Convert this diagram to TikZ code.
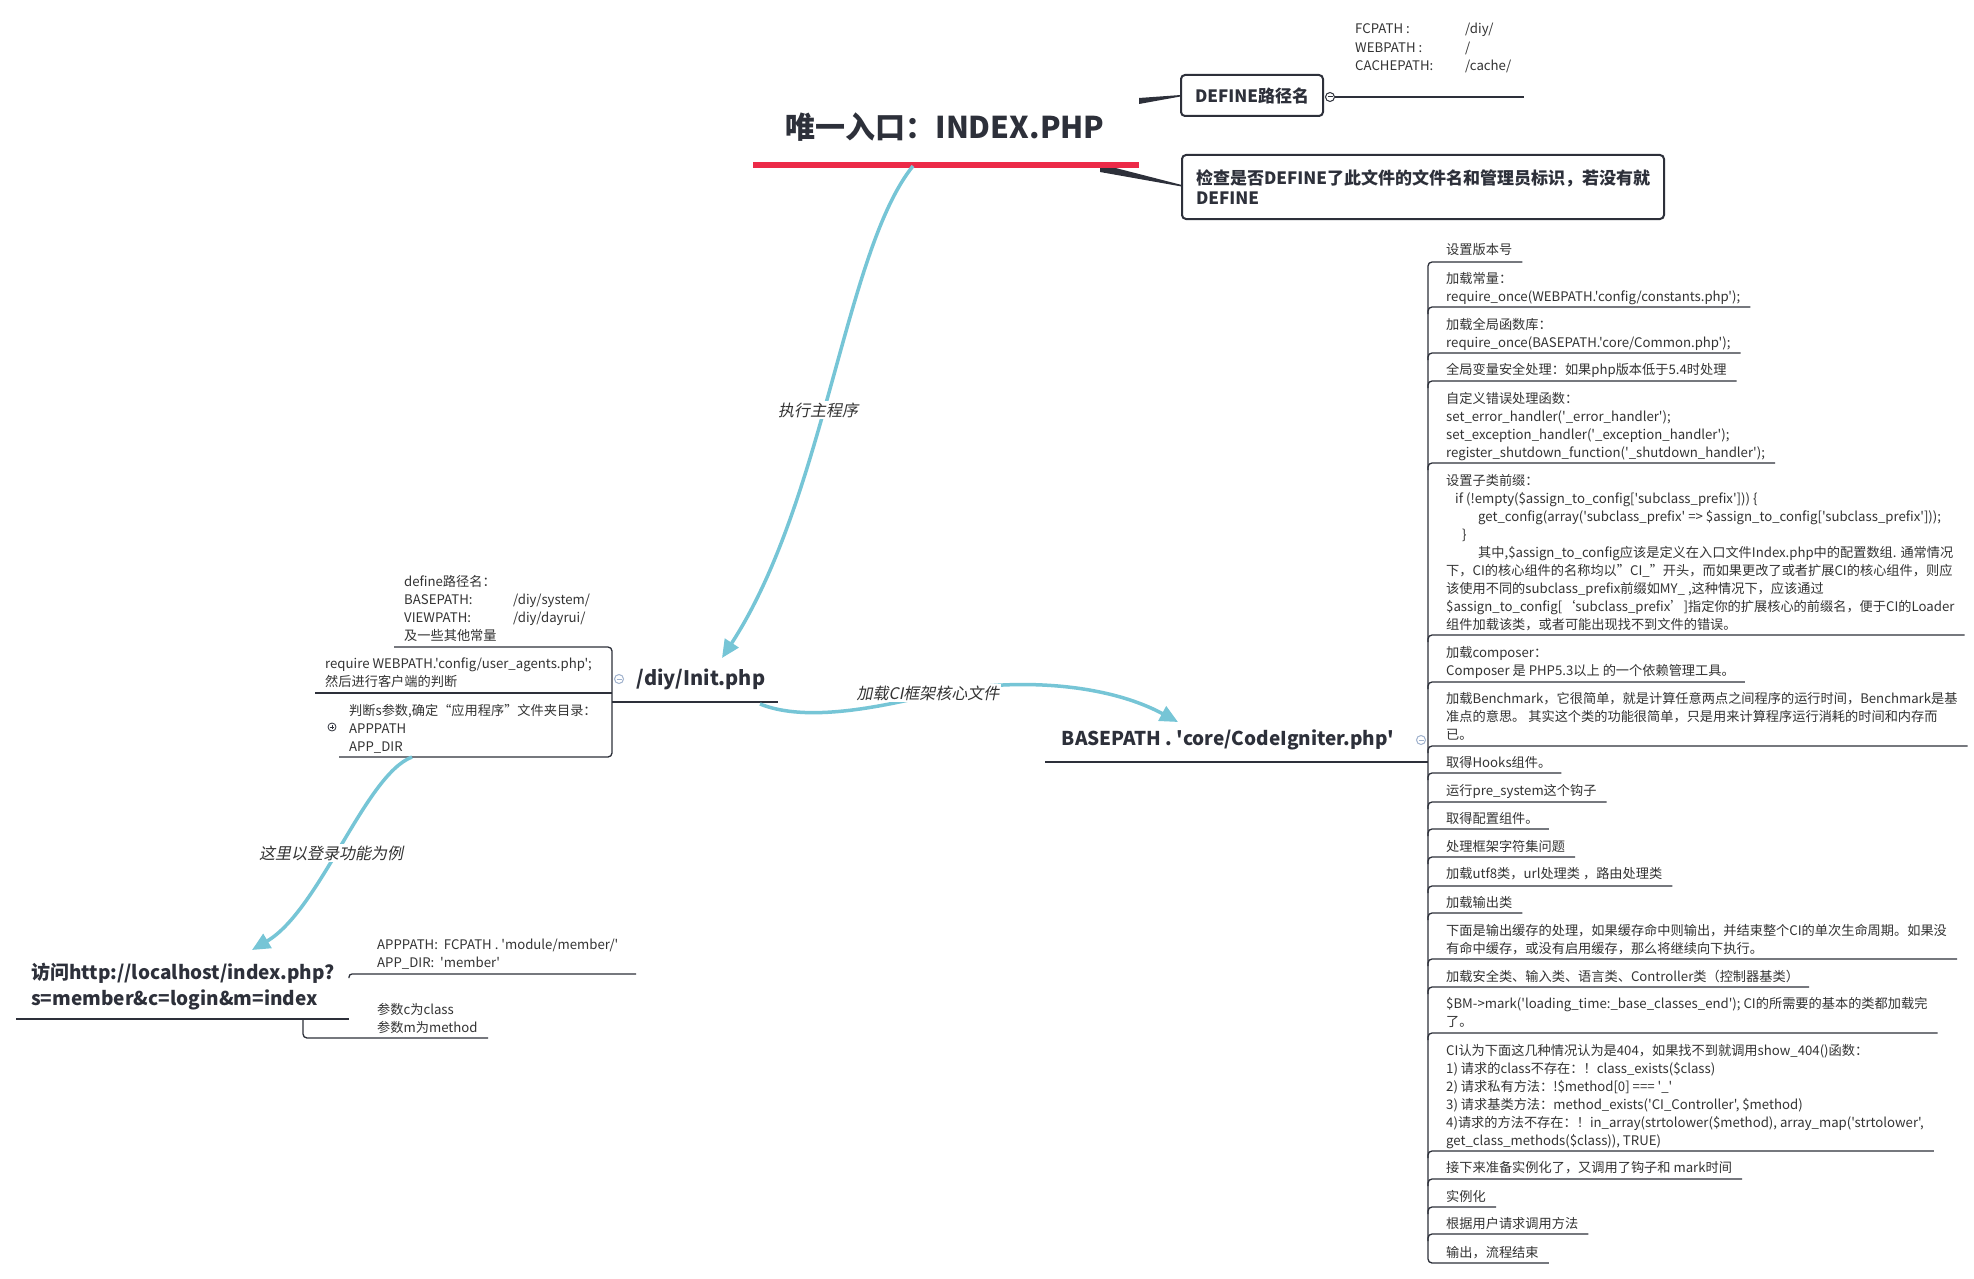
\documentclass[tikz,border=0pt]{standalone}
\usepackage{fontspec}
\newfontfamily\cjk{Noto Sans CJK SC}
\newfontfamily\cjkit{Noto Sans CJK SC}[FakeSlant=0.2]
\usetikzlibrary{arrows.meta}
\definecolor{ink}{RGB}{51,51,51}
\definecolor{dark}{RGB}{45,48,58}
\definecolor{flowc}{RGB}{118,197,214}
\definecolor{redc}{RGB}{236,42,72}
\definecolor{iconc}{RGB}{160,178,205}
\begin{document}
\begin{tikzpicture}[x=1pt,y=-1pt,
 small/.style={font={\cjk\fontsize{13.2}{18}\selectfont},text=ink,align=left,inner sep=0pt,anchor=base west},
 ul/.style={draw=dark,line width=1.3pt},
 mainul/.style={draw=dark,line width=2.6pt},
 topic/.style={font={\cjk\bfseries\fontsize{20}{26}\selectfont},text=dark,inner sep=0pt},
 boxnode/.style={draw=dark,line width=2pt,rounded corners=4pt,font={\cjk\bfseries\fontsize{17}{20}\selectfont},text=dark,align=left,inner sep=0pt},
 flow/.style={draw=flowc,line width=3.5pt,-{Triangle[length=18pt,width=16pt]}},
 flowlabel/.style={font={\cjkit\fontsize{16}{18}\selectfont},text=ink,fill=white,inner sep=2pt},
 icon/.style={draw=#1,line width=1pt,fill=white,circle,minimum size=9pt,inner sep=0pt},
]
\useasboundingbox[fill=white] (0,0) rectangle (1974,1279);

% ---------- central topic ----------
\fill[dark] (1139,98) -- (1181,95) -- (1181,96.4) -- (1139,104) -- cycle;
\fill[dark] (1100,164) -- (1181,184.8) -- (1181,186.4) -- (1100,172) -- cycle;
\node[font={\cjk\bfseries\fontsize{30}{36}\selectfont},text=dark,inner sep=0pt] (title) at (945,127) {唯一入口：INDEX.PHP};
\fill[redc] (753,162.5) rectangle (1139,168.5);
\coordinate (titleR) at (913,166);

\node[boxnode,minimum width=142pt,minimum height=41pt] (def) at (1252,95.5) {DEFINE路径名};
\node[boxnode,minimum width=482pt,minimum height=64pt,anchor=north west] (chk) at (1181,154)
 {检查是否DEFINE了此文件的文件名和管理员标识，若没有就\\DEFINE};

\node[icon=dark] (icdef) at (1330,97) {};
\draw[dark,line width=1pt] ([xshift=-2.5pt]icdef.center) -- ([xshift=2.5pt]icdef.center);
\node[small,font={\cjk\fontsize{13.2}{18.5}\selectfont}] (fc) at (1355,71)
 {\makebox[110pt][l]{FCPATH :}/diy/\\\makebox[110pt][l]{WEBPATH :}/\\\makebox[110pt][l]{CACHEPATH:}/cache/};
\draw[ul] (icdef.east) -- (1524,97);

% ---------- /diy/Init.php ----------
\node[topic] (init) at (701,679) {/diy/Init.php};
\draw[mainul] (625,702) -- (778,702);
\coordinate (initR) at (760,704);
\coordinate (initTop) at (722,658);
\node[icon=iconc] (icinit) at (619,679) {};
\draw[iconc,line width=1pt] ([xshift=-2.5pt]icinit.center) -- ([xshift=2.5pt]icinit.center);

\node[small] (l1) at (404,640)
 {define路径名：\\\makebox[109pt][l]{BASEPATH:}/diy/system/\\\makebox[109pt][l]{VIEWPATH:}/diy/dayrui/\\及一些其他常量};
\node[small] (l2) at (325,686) {require WEBPATH.'config/user\_agents.php';\\然后进行客户端的判断};
\node[small] (l3) at (349,751) {判断s参数,确定“应用程序”文件夹目录：\\APPPATH\\APP\_DIR};
\draw[ul,rounded corners=4pt] (394,647) -- (612,647) -- (612,757) -- (339,757);
\draw[ul] (315,693) -- (612,693);
\draw[ul] (612,702) -- (625,702);
\node[icon=dark,minimum size=8pt,line width=0.8pt] (icl3) at (332,727) {};
\draw[dark,line width=0.8pt] ([xshift=-2.2pt]icl3.center) -- ([xshift=2.2pt]icl3.center)
 ([yshift=-2.2pt]icl3.center) -- ([yshift=2.2pt]icl3.center);
\coordinate (l3B) at (412,757);

% ---------- login node ----------
\node[font={\cjk\bfseries\fontsize{19}{26}\selectfont},text=dark,inner sep=0pt,align=left,anchor=base west] (login) at (31,1005)
 {访问http://localhost/index.php?\\s=member\&c=login\&m=index};
\draw[mainul] (16,1019) -- (349,1019);
\coordinate (loginTop) at (252,950);
\node[small] (c1) at (377,967) {APPPATH:\ \ FCPATH . 'module/member/'\\APP\_DIR:\ \ 'member'};
\node[small] (c2) at (377,1032) {参数c为class\\参数m为method};
\draw[ul,rounded corners=3pt] (349,978) -- (349,974) -- (636,974);
\draw[ul,rounded corners=4pt] (303,1019) |- (488,1038);

% ---------- CodeIgniter ----------
\node[font={\cjk\bfseries\fontsize{19}{24}\selectfont},text=dark,inner sep=0pt] (ci) at (1228,740) {BASEPATH . 'core/CodeIgniter.php'};
\draw[mainul] (1045,762) -- (1414,762);
\draw[ul] (1414,762) -- (1428,762);
\coordinate (ciTop) at (1178,722);
\node[icon=iconc] (icci) at (1421,740) {};
\draw[iconc,line width=1pt] ([xshift=-2.5pt]icci.center) -- ([xshift=2.5pt]icci.center);

\node[small] (r1) at (1446,254) {设置版本号};
\node[small] (r2) at (1446,301) {加载常量：\\require\_once(WEBPATH.'config/constants.php');};
\node[small] (r3) at (1446,347) {加载全局函数库：\\require\_once(BASEPATH.'core/Common.php');};
\node[small] (r4) at (1446,374) {全局变量安全处理：如果php版本低于5.4时处理};
\node[small] (r5) at (1446,457) {自定义错误处理函数：\\set\_error\_handler('\_error\_handler');\\set\_exception\_handler('\_exception\_handler');\\register\_shutdown\_function('\_shutdown\_handler');};
\node[small] (r6) at (1446,629) {设置子类前缀：\\\hspace*{9pt}if (!empty(\$assign\_to\_config['subclass\_prefix'])) \{\\\hspace*{32pt}get\_config(array('subclass\_prefix' => \$assign\_to\_config['subclass\_prefix']));\\\hspace*{16pt}\}\\\hspace*{32pt}其中,\$assign\_to\_config应该是定义在入口文件Index.php中的配置数组. 通常情况\\下，CI的核心组件的名称均以”CI\_”开头，而如果更改了或者扩展CI的核心组件，则应\\该使用不同的subclass\_prefix前缀如MY\_ ,这种情况下，应该通过\\\$assign\_to\_config[‘subclass\_prefix’]指定你的扩展核心的前缀名，便于CI的Loader\\组件加载该类，或者可能出现找不到文件的错误。};
\node[small] (r7) at (1446,675) {加载composer：\\Composer 是 PHP5.3以上 的一个依赖管理工具。};
\node[small] (r8) at (1446,739) {加载Benchmark，它很简单，就是计算任意两点之间程序的运行时间，Benchmark是基\\准点的意思。 其实这个类的功能很简单，只是用来计算程序运行消耗的时间和内存而\\已。};
\node[small] (r9) at (1446,767) {取得Hooks组件。};
\node[small] (r10) at (1446,795) {运行pre\_system这个钩子};
\node[small] (r11) at (1446,823) {取得配置组件。};
\node[small] (r12) at (1446,851) {处理框架字符集问题};
\node[small] (r13) at (1446,878) {加载utf8类，url处理类 ，路由处理类};
\node[small] (r14) at (1446,907) {加载输出类};
\node[small] (r15) at (1446,953) {下面是输出缓存的处理，如果缓存命中则输出，并结束整个CI的单次生命周期。如果没\\有命中缓存，或没有启用缓存，那么将继续向下执行。};
\node[small] (r16) at (1446,981) {加载安全类、输入类、语言类、Controller类（控制器基类）};
\node[small] (r17) at (1446,1026) {\$BM->mark('loading\_time:\_base\_classes\_end'); CI的所需要的基本的类都加载完\\了。};
\node[small] (r18) at (1446,1145) {CI认为下面这几种情况认为是404，如果找不到就调用show\_404()函数：\\1) 请求的class不存在：！class\_exists(\$class)\\2) 请求私有方法：!\$method[0] === '\_'\\3) 请求基类方法：method\_exists('CI\_Controller', \$method)\\4)请求的方法不存在：！in\_array(strtolower(\$method), array\_map('strtolower',\\get\_class\_methods(\$class)), TRUE)};
\node[small] (r19) at (1446,1172) {接下来准备实例化了，又调用了钩子和 mark时间};
\node[small] (r20) at (1446,1201) {实例化};
\node[small] (r21) at (1446,1228) {根据用户请求调用方法};
\node[small] (r22) at (1446,1257) {输出，流程结束};

\draw[ul,rounded corners=4pt] (r22.east |- 0,1263) ++(10,0) -- (1428,1263) -- (1428,262) -- (r1.east |- 0,262) -- ++(10,0);
\foreach \n/\y in {r2/307,r3/353,r4/381,r5/463,r6/635,r7/682,r8/746,r9/773,r10/802,r11/829,r12/857,r13/886,r14/913,r15/959,r16/987,r17/1033,r18/1151,r19/1179,r20/1207,r21/1234}
  \draw[ul,rounded corners=4pt] (1428,\y+7) |- (\n.east |- 0,\y) -- ++(10,0);

% ---------- flows ----------
\draw[flow] (titleR) .. controls (845,250) and (825,500) .. (initTop);
\node[flowlabel] (fl1) at (818,410) {执行主程序};
\draw[flow] (initR) .. controls (800,720) and (860,712) .. (930,695) .. controls (1000,678) and (1100,680) .. (ciTop);
\node[flowlabel] (fl2) at (928,693) {加载CI框架核心文件};
\draw[flow] (l3B) .. controls (365,775) and (320,910) .. (loginTop);
\node[flowlabel] (fl3) at (331,853) {这里以登录功能为例};
\end{tikzpicture}
\end{document}
